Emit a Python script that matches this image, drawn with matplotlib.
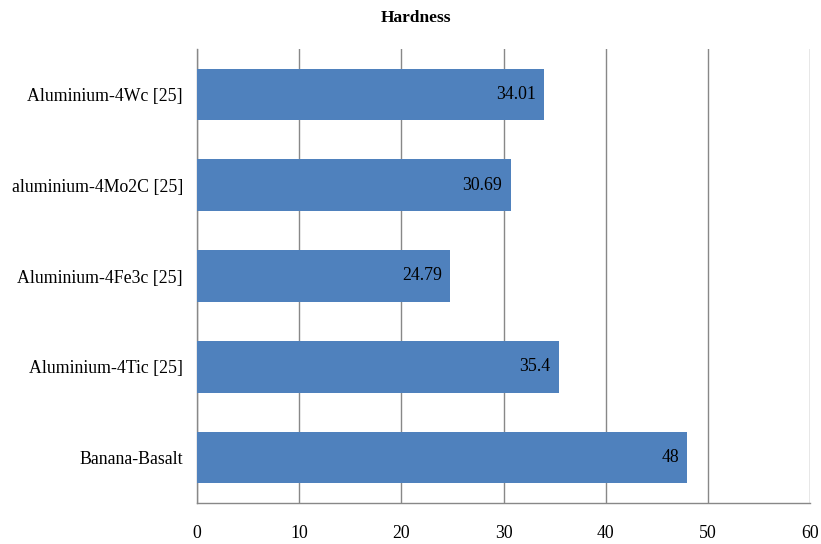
import matplotlib
matplotlib.use("Agg")
import matplotlib.pyplot as plt

categories = ["Banana-Basalt", "Aluminium-4Tic [25]", "Aluminium-4Fe3c [25]",
              "aluminium-4Mo2C [25]", "Aluminium-4Wc [25]"]
values = [48, 35.4, 24.79, 30.69, 34.01]
value_labels = ["48", "35.4", "24.79", "30.69", "34.01"]
xticks = [0, 10, 20, 30, 40, 50, 60]

plt.rcParams['font.family'] = ['Liberation Serif', 'DejaVu Serif']

fig = plt.figure(figsize=(8.21, 5.44), dpi=100)
ax = fig.add_axes([197/821, 1-503/544, (810-197)/821, (503-49)/544])

y = list(range(len(categories)))
ax.barh(y, values, height=0.57, color="#4F81BD", zorder=3)
for yi, v, lab in zip(y, values, value_labels):
    ax.annotate(lab, xy=(v, yi), xytext=(-6, 0), textcoords="offset points",
                ha="right", va="center", fontsize=12.8, color="black", zorder=4)

ax.set_xlim(0, 60)
ax.set_ylim(-0.5, len(categories) - 0.5)
ax.set_xticks(xticks)
ax.set_xticklabels([str(t) for t in xticks], fontsize=12.8)
ax.set_yticks(y)
ax.set_yticklabels(categories, fontsize=12.8)
ax.tick_params(axis="both", length=0)
ax.tick_params(axis="x", pad=16)
ax.tick_params(axis="y", pad=10)
ax.grid(axis="x", color="#888888", linewidth=1.0, zorder=0)
for s in ["top", "right"]:
    ax.spines[s].set_visible(False)
for s in ["left", "bottom"]:
    ax.spines[s].set_color("#888888")
    ax.spines[s].set_linewidth(1.0)

fig.text(416/821, 1 - 18/544, "Hardness", ha="center", va="center",
         fontsize=12.5, fontweight="bold")

fig.savefig("out.png", dpi=100)
